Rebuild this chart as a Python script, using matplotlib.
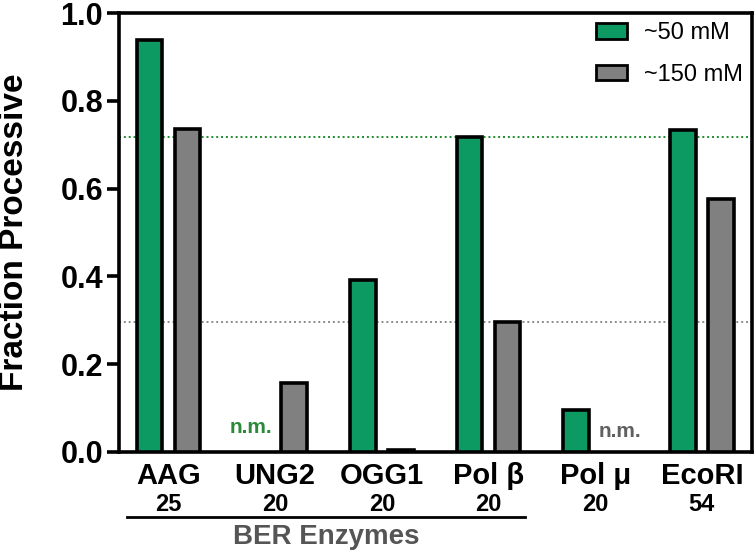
import numpy as np
import matplotlib
matplotlib.use("Agg")
import matplotlib.pyplot as plt
from matplotlib.patches import Patch

plt.rcParams['font.family'] = ['Liberation Sans', 'DejaVu Sans']

# data
enzymes = ["AAG", "UNG2", "OGG1", "Pol β", "Pol μ", "EcoRI"]
sizes = ["25", "20", "20", "20", "20", "54"]
low_salt = [0.938, np.nan, 0.392, 0.717, 0.096, 0.733]    # ~50 mM
high_salt = [0.736, 0.157, 0.005, 0.296, np.nan, 0.576]   # ~150 mM
ref_low = 0.717
ref_high = 0.296

green = "#0c9a62"
grey = "#808080"

fig = plt.figure(figsize=(7.56, 5.52), dpi=100)
ax = fig.add_axes([0.1574, 0.1812, 0.9947 - 0.1574, 0.9764 - 0.1812])

x = np.arange(len(enzymes))
off = 0.178
w = 0.24
ax.bar(x - off, np.nan_to_num(low_salt), w, color=green, edgecolor="black", linewidth=2.6,
       label="~50 mM", zorder=3)
ax.bar(x + off, np.nan_to_num(high_salt), w, color=grey, edgecolor="black", linewidth=2.6,
       label="~150 mM", zorder=3)
# hide bars that were not measured
for i in range(len(enzymes)):
    if np.isnan(low_salt[i]):
        ax.patches[i].set_visible(False)
    if np.isnan(high_salt[i]):
        ax.patches[len(enzymes) + i].set_visible(False)

ax.axhline(ref_low, color="#1f8a2e", linestyle=(0, (1, 1.5)), linewidth=1.4, zorder=2)
ax.axhline(ref_high, color="#8c8c8c", linestyle=(0, (1, 1.5)), linewidth=1.4, zorder=2)

# not measured labels
ax.text(1 - off - 0.05, 0.035, "n.m.", color="#2a8a3a", fontsize=15, fontweight="bold",
        ha="center", va="bottom")
ax.text(4 + off + 0.05, 0.025, "n.m.", color="#606060", fontsize=15, fontweight="bold",
        ha="center", va="bottom")

ax.set_xlim(-0.464, 5.47)
ax.set_ylim(0, 1.0)
ax.set_yticks(np.arange(0, 1.01, 0.2))
ax.set_yticklabels(["{:.1f}".format(v) for v in np.arange(0, 1.01, 0.2)],
                   fontsize=22, fontweight="bold")
ax.set_xticks(x)
ax.set_xticklabels([])
ax.tick_params(axis="x", length=0)
ax.tick_params(axis="y", length=8.5, width=2.6, pad=3)
for s in ax.spines.values():
    s.set_linewidth(2.6)

ax.set_ylabel("Fraction Processive", fontsize=24, fontweight="bold", labelpad=22)

# two-line category labels
trans = ax.get_xaxis_transform()
for i in range(len(enzymes)):
    ax.text(x[i], -0.022, enzymes[i], transform=trans, ha="center", va="top",
            fontsize=21, fontweight="bold")
    ax.text(x[i], -0.093, sizes[i], transform=trans, ha="center", va="top",
            fontsize=17, fontweight="bold")

# BER bracket
ax.plot([-0.39, 3.34], [-0.148, -0.148], transform=trans, color="black",
        linewidth=2.0, clip_on=False)
ax.text(1.48, -0.163, "BER Enzymes", transform=trans, ha="center", va="top",
        fontsize=20, fontweight="bold", color="#555555")

handles = [Patch(facecolor=green, edgecolor="black", linewidth=2.0, label="~50 mM"),
           Patch(facecolor=grey, edgecolor="black", linewidth=2.0, label="~150 mM")]
ax.legend(handles=handles, loc="upper right", frameon=False, fontsize=17,
          handlelength=1.3, handleheight=0.63, labelspacing=0.82, borderaxespad=0.0,
          handletextpad=0.72, bbox_to_anchor=(1.0, 1.0))

fig.savefig("out.png", dpi=100)
